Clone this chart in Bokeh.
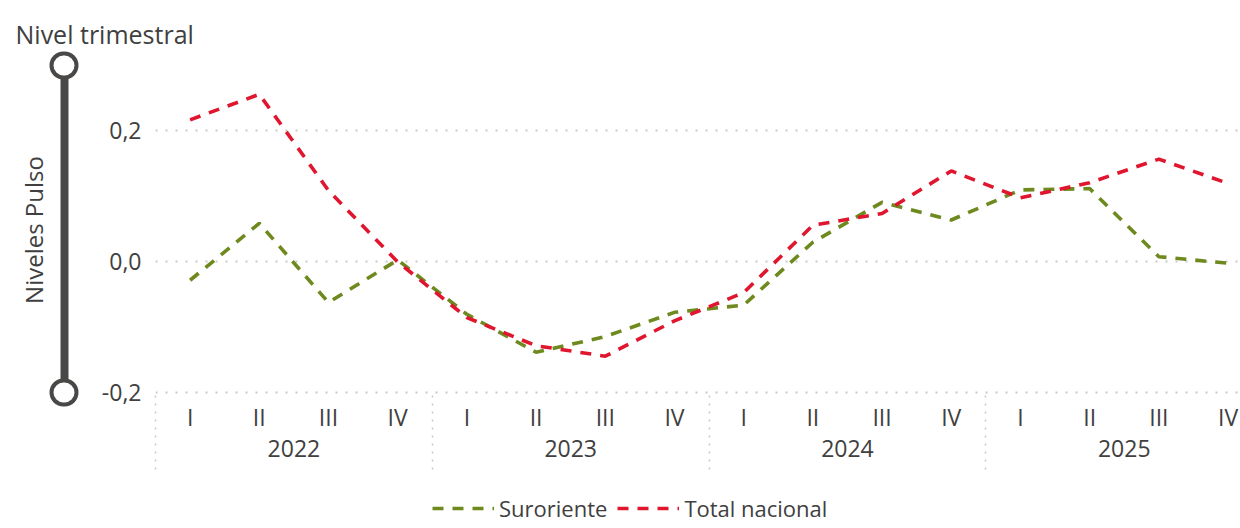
from bokeh.plotting import figure
from bokeh.models import (Range1d, LinearAxis, FixedTicker, Legend, LegendItem,
                          ColumnDataSource)
from bokeh.layouts import column
from bokeh.embed import file_html
from bokeh.resources import INLINE

# ---------------- data ----------------
years = ["2022", "2023", "2024", "2025"]
period_year = ["2022", "2022", "2022", "2022", "2023", "2023", "2023", "2023",
               "2024", "2024", "2024", "2024", "2025", "2025", "2025", "2025"]
period_quarter = ["I", "II", "III", "IV", "I", "II", "III", "IV",
                  "I", "II", "III", "IV", "I", "II", "III", "IV"]
suroriente = [-0.028, 0.059, -0.062, 0.003, -0.080, -0.138, -0.114, -0.077,
              -0.066, 0.030, 0.091, 0.064, 0.110, 0.112, 0.008, -0.002]
total_nacional = [0.217, 0.256, 0.109, 0.000, -0.085, -0.128, -0.144, -0.090,
                  -0.047, 0.056, 0.074, 0.139, 0.098, 0.121, 0.157, 0.120]
y_ticks = [-0.2, 0.0, 0.2]
y_tick_labels = ["-0,2", "0,0", "0,2"]
slider_ends = [-0.2, 0.3]

# ---------------- styling ----------------
FONT = "Open Sans"
TEXT = "#404040"
GREEN = "#6E8A1F"
RED = "#E0162F"
BAR = "#4A4846"
GRID = "#C8C8C8"
DASH = "11 9"

idx = list(range(len(period_quarter)))
year_centers = [sum(i for i, y in enumerate(period_year) if y == yr) /
                period_year.count(yr) for yr in years]
separators = [period_year.index(yr) - 0.5 for yr in years]
src = ColumnDataSource(dict(x=idx, sur=suroriente, tot=total_nacional))

Y0, Y1 = -0.2025, 0.3

p = figure(width=1240, height=490, x_range=Range1d(-0.5, 15.18),
           y_range=Range1d(Y0, Y1), output_backend="svg", toolbar_location=None,
           x_axis_location=None, y_axis_location=None,
           min_border_left=155, min_border_right=0, min_border_top=64,
           min_border_bottom=96, outline_line_color=None)
p.xgrid.visible = False
p.ygrid.ticker = FixedTicker(ticks=y_ticks)
p.ygrid.grid_line_color = GRID
p.ygrid.grid_line_width = 2
p.ygrid.grid_line_dash = "2 8"

# title
p.title.text = "Nivel trimestral"
p.title.align = "left"
p.title.offset = -140
p.title.standoff = 29
p.title.text_font = FONT
p.title.text_font_size = "25px"
p.title.text_font_style = "normal"
p.title.text_color = TEXT

# series
r1 = p.line("x", "sur", source=src, line_color=GREEN, line_width=3.6,
            line_dash=DASH)
r2 = p.line("x", "tot", source=src, line_color=RED, line_width=3.6,
            line_dash=DASH)

# ---- left side: tick labels, spacer, slider bar with axis title ----
yax = LinearAxis(ticker=FixedTicker(ticks=y_ticks),
                 major_label_overrides=dict(zip(y_ticks, y_tick_labels)),
                 axis_line_color=None, major_tick_line_color=None,
                 minor_tick_line_color=None, major_tick_out=0, major_tick_in=0,
                 major_label_standoff=14,
                 major_label_text_font=FONT, major_label_text_font_size="23px",
                 major_label_text_color=TEXT)
p.add_layout(yax, "left")

spacer = LinearAxis(ticker=FixedTicker(ticks=[0.0]),
                    major_label_overrides={0.0: ""},
                    axis_line_color=None, major_tick_line_color=None,
                    minor_tick_line_color=None, major_tick_in=0,
                    major_tick_out=34, minor_tick_out=0, major_label_standoff=0)
p.add_layout(spacer, "left")

bar = LinearAxis(ticker=FixedTicker(ticks=slider_ends, minor_ticks=slider_ends),
                 major_label_overrides={v: "" for v in slider_ends},
                 axis_line_color=BAR, axis_line_width=8,
                 major_tick_in=0, major_tick_out=1, major_tick_line_color=BAR,
                 major_tick_line_width=28, major_tick_line_cap="round",
                 minor_tick_in=0, minor_tick_out=1, minor_tick_line_color="white",
                 minor_tick_line_width=20, minor_tick_line_cap="round",
                 major_label_standoff=0,
                 axis_label="Niveles Pulso", axis_label_standoff=14,
                 axis_label_text_font=FONT, axis_label_text_font_size="24px",
                 axis_label_text_font_style="normal",
                 axis_label_text_color=TEXT)
p.add_layout(bar, "left")

# ---- bottom: quarters, years, group separators ----
qax = LinearAxis(ticker=FixedTicker(ticks=idx),
                 major_label_overrides=dict(zip(idx, period_quarter)),
                 axis_line_color=None, major_tick_line_color=None,
                 minor_tick_line_color=None, major_tick_in=0, major_tick_out=0,
                 major_label_standoff=6, major_label_text_font=FONT,
                 major_label_text_font_size="23px", major_label_text_color=TEXT)
p.add_layout(qax, "below")

yrax = LinearAxis(ticker=FixedTicker(ticks=year_centers),
                  major_label_overrides=dict(zip(year_centers, years)),
                  axis_line_color=None, major_tick_line_color=None,
                  minor_tick_line_color=None, major_tick_in=0, major_tick_out=0,
                  major_label_standoff=4, major_label_text_font=FONT,
                  major_label_text_font_size="23px", major_label_text_color=TEXT)
p.add_layout(yrax, "below")

sepax = LinearAxis(ticker=FixedTicker(ticks=separators),
                   major_label_overrides={s: "" for s in separators},
                   axis_line_color=None, major_tick_line_color=GRID,
                   major_tick_line_width=1.5, major_tick_line_dash="2 6",
                   major_tick_in=64, major_tick_out=10,
                   minor_tick_line_color=None, major_label_standoff=0)
p.add_layout(sepax, "below")

# ---- legend strip under the chart (series kept out of its view) ----
lg = figure(width=1240, height=36, x_range=Range1d(0, 1),
            y_range=Range1d(10, 11), output_backend="svg",
            toolbar_location=None, x_axis_location=None, y_axis_location=None,
            min_border_left=155, min_border_right=0, min_border_top=0,
            min_border_bottom=0, outline_line_color=None)
lg.grid.visible = False
k1 = lg.line("x", "sur", source=src, line_color=GREEN, line_width=3.6,
             line_dash=DASH)
k2 = lg.line("x", "tot", source=src, line_color=RED, line_width=3.6,
             line_dash=DASH)
leg = Legend(items=[LegendItem(label="Suroriente", renderers=[k1]),
                    LegendItem(label="Total nacional", renderers=[k2])],
             orientation="horizontal", location=(277, 3),
             border_line_color=None, background_fill_alpha=0,
             label_text_font=FONT, label_text_font_size="22px",
             label_text_color=TEXT, glyph_width=62, glyph_height=20,
             label_height=20, label_standoff=5, spacing=10, padding=0, margin=0)
lg.add_layout(leg)

layout = column(p, lg, spacing=0)
open("out.html", "w").write(file_html(layout, INLINE))
